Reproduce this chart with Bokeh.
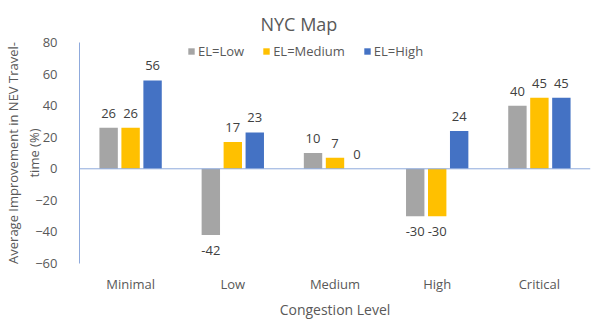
from bokeh.plotting import figure
from bokeh.models import ColumnDataSource, FactorRange, Legend, LegendItem, LabelSet, Span, FixedTicker, Range1d
from bokeh.core.properties import value
from bokeh.transform import dodge
from bokeh.embed import file_html
from bokeh.resources import INLINE

categories = ["Minimal", "Low", "Medium", "High", "Critical"]
el_low = [26, -42, 10, -30, 40]
el_medium = [26, 17, 7, -30, 45]
el_high = [56, 23, 0, 24, 45]
series_names = ["EL=Low", "EL=Medium", "EL=High"]
colors = ["#A5A5A5", "#FFC000", "#4472C4"]
y_ticks = [-60, -40, -20, 0, 20, 40, 60, 80]

TXT = "#595959"

p = figure(width=596, height=323, x_range=FactorRange(*categories), y_range=Range1d(-60, 80),
           output_backend="svg", toolbar_location=None,
           min_border_left=78, min_border_right=6, min_border_top=42, min_border_bottom=60)
p.title.text = "NYC Map"
p.title.align = "left"
p.title.offset = 181
p.title.standoff = 14
p.title.text_font = "Open Sans"
p.title.text_font_size = "18px"
p.title.text_font_style = "normal"
p.title.text_color = TXT

p.outline_line_color = None
p.grid.visible = False

offsets = [-0.215, 0.0, 0.215]
vals = [el_low, el_medium, el_high]
items = []
for name, col, off, v in zip(series_names, colors, offsets, vals):
    src = ColumnDataSource(dict(cat=categories, val=v))
    r = p.vbar(x=dodge("cat", off, range=p.x_range), top="val", bottom=0, width=0.18,
               source=src, fill_color=col, line_color=None)
    items.append(LegendItem(label=name, renderers=[r]))
    pos = ColumnDataSource(dict(cat=[c for c, x in zip(categories, v) if x >= 0],
                                y=[x for x in v if x >= 0], t=[str(x) for x in v if x >= 0]))
    neg = ColumnDataSource(dict(cat=[c for c, x in zip(categories, v) if x < 0],
                                y=[x for x in v if x < 0], t=[str(x) for x in v if x < 0]))
    p.add_layout(LabelSet(x=dodge("cat", off, range=p.x_range), y="y", text="t", source=pos,
                          text_align="center", text_baseline="bottom", y_offset=10,
                          text_font_size=value("13px"), text_color="#404040",
                          text_font=value("Open Sans")))
    p.add_layout(LabelSet(x=dodge("cat", off, range=p.x_range), y="y", text="t", source=neg,
                          text_align="center", text_baseline="top", y_offset=-11,
                          text_font_size=value("13px"), text_color="#404040",
                          text_font=value("Open Sans")))

p.add_layout(Span(location=0, dimension="width", line_color="#8FAADC", line_width=1))

legend = Legend(items=items, orientation="horizontal", location=(108, 203),
                border_line_color=None, background_fill_alpha=0,
                label_text_font="Open Sans", label_text_font_size="13px", label_text_color=TXT,
                label_height=15, glyph_width=8, glyph_height=8, label_standoff=3, spacing=18,
                padding=0, margin=0)
p.add_layout(legend)

p.yaxis.ticker = FixedTicker(ticks=y_ticks)
p.yaxis.axis_line_color = "#8FAADC"
p.yaxis.major_tick_line_color = None
p.yaxis.minor_tick_line_color = None
p.yaxis.major_label_standoff = 16
p.yaxis.major_label_text_font = "Open Sans"
p.yaxis.major_label_text_font_size = "13px"
p.yaxis.major_label_text_color = TXT
p.yaxis.axis_label = "Average Improvement in NEV Travel-\ntime (%)"
p.yaxis.axis_label_text_font = "Open Sans"
p.yaxis.axis_label_text_font_size = "13px"
p.yaxis.axis_label_text_font_style = "normal"
p.yaxis.axis_label_text_color = TXT
p.yaxis.axis_label_standoff = -11

p.xaxis.axis_line_color = None
p.xaxis.major_tick_line_color = None
p.xaxis.minor_tick_line_color = None
p.xaxis.major_label_standoff = 5
p.xaxis.major_label_text_font = "Open Sans"
p.xaxis.major_label_text_font_size = "13px"
p.xaxis.major_label_text_color = TXT
p.xaxis.axis_label = "Congestion Level"
p.xaxis.axis_label_text_font = "Open Sans"
p.xaxis.axis_label_text_font_size = "14px"
p.xaxis.axis_label_text_font_style = "normal"
p.xaxis.axis_label_text_color = TXT
p.xaxis.axis_label_standoff = 4
p.x_range.range_padding = 0
p.x_range.group_padding = 0

open("out.html", "w").write(file_html(p, INLINE))
